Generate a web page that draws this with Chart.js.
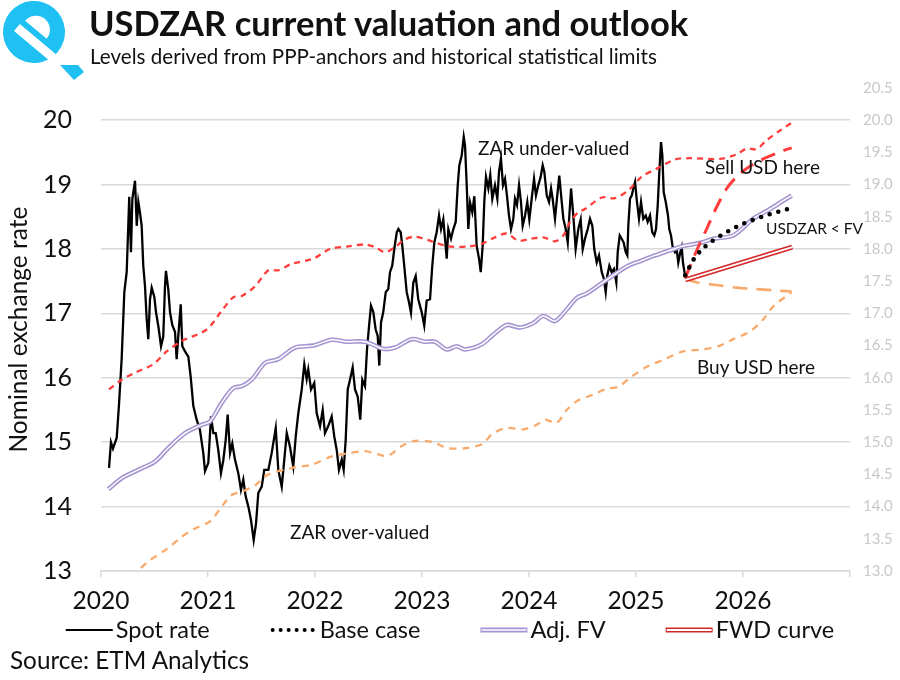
<!DOCTYPE html>
<html><head><meta charset="utf-8">
<script src="https://cdn.jsdelivr.net/npm/chart.js@4.4.1/dist/chart.umd.min.js"></script>
<style>
html,body{margin:0;padding:0;background:#fff;}
#wrap{position:relative;width:900px;height:680px;overflow:hidden;font-family:Lato,"Open Sans",sans-serif;background:#fff;}
#c{position:absolute;left:0;top:0;}
#logo{position:absolute;left:0;top:0;}
.title{position:absolute;left:89px;top:6px;font-weight:700;font-size:34.5px;line-height:1;color:#111;white-space:nowrap;}
.sub{position:absolute;left:90px;top:46px;font-size:20.6px;line-height:1;color:#111;white-space:nowrap;}
.src{position:absolute;left:10px;top:648px;font-size:24.3px;line-height:1;color:#111;white-space:nowrap;}
</style></head>
<body>
<div id="wrap">
<canvas id="c" width="900" height="680"></canvas>
<svg id="logo" width="90" height="85" viewBox="0 0 90 85">
  <g transform="rotate(40 34 32)">
    <circle cx="34" cy="32" r="31" fill="#1ec1f2"/>
    <path d="M20,29 A14,14 0 0 1 48,29 Z" fill="#ffffff"/>
    <rect x="18" y="35" width="60" height="9" fill="#ffffff"/>
  </g>
  <polygon points="60,65 78,65 84,72 74,80" fill="#1ec1f2"/>
</svg>
<div class="title">USDZAR current valuation and outlook</div>
<div class="sub">Levels derived from PPP-anchors and historical statistical limits</div>
<div class="src">Source: ETM Analytics</div>
</div>
<script>
// ---------- DATA (x = decimal year, y = USDZAR) ----------
const yearTicks = [2020, 2021, 2022, 2023, 2024, 2025, 2026, 2027];
const yearLabels = ['2020','2021','2022','2023','2024','2025','2026',''];

const spotRate = [
[2020.075,14.60],[2020.093,15.00],[2020.112,14.90],[2020.147,15.07],[2020.168,15.58],[2020.193,16.29],
[2020.218,17.33],[2020.240,17.64],[2020.255,18.36],[2020.264,18.81],[2020.280,17.95],[2020.293,18.78],
[2020.318,19.06],[2020.334,18.36],[2020.349,18.73],[2020.364,18.57],[2020.380,18.36],[2020.395,17.74],
[2020.411,17.43],[2020.427,16.91],[2020.442,16.60],[2020.458,17.22],[2020.474,17.40],[2020.498,17.26],
[2020.514,17.02],[2020.536,16.80],[2020.561,16.49],[2020.582,16.64],[2020.598,17.43],[2020.607,17.66],
[2020.629,17.37],[2020.645,17.02],[2020.666,16.82],[2020.692,16.71],[2020.707,16.29],[2020.722,16.64],
[2020.745,17.14],[2020.760,16.49],[2020.785,16.41],[2020.816,16.33],[2020.838,16.02],[2020.863,15.56],
[2020.894,15.35],[2020.925,15.19],[2020.956,14.83],[2020.972,14.55],[2021.003,14.68],[2021.028,15.40],
[2021.050,15.14],[2021.072,15.14],[2021.096,14.88],[2021.121,14.52],[2021.143,14.72],[2021.165,15.03],
[2021.184,15.43],[2021.206,14.83],[2021.227,14.98],[2021.252,14.73],[2021.283,14.52],[2021.308,14.26],
[2021.330,14.42],[2021.352,14.16],[2021.377,14.00],[2021.402,13.79],[2021.427,13.48],[2021.449,13.74],
[2021.470,14.21],[2021.502,14.31],[2021.526,14.57],[2021.564,14.57],[2021.595,14.83],[2021.633,15.22],
[2021.657,14.57],[2021.689,14.31],[2021.713,14.73],[2021.736,15.14],[2021.766,14.93],[2021.797,14.62],
[2021.820,15.09],[2021.844,15.45],[2021.876,15.82],[2021.900,16.21],[2021.922,15.98],[2021.937,16.13],
[2021.963,15.82],[2021.993,15.92],[2022.016,15.45],[2022.047,15.25],[2022.072,15.50],[2022.093,15.14],
[2022.124,15.25],[2022.156,15.40],[2022.180,15.09],[2022.203,14.88],[2022.224,14.57],[2022.250,14.73],
[2022.268,14.57],[2022.287,15.04],[2022.306,15.82],[2022.327,15.97],[2022.352,16.16],[2022.374,15.82],
[2022.399,15.71],[2022.423,15.35],[2022.442,15.97],[2022.467,15.87],[2022.486,16.44],[2022.505,16.80],
[2022.523,17.12],[2022.545,17.02],[2022.567,16.75],[2022.586,16.65],[2022.601,16.19],[2022.617,16.86],
[2022.638,17.02],[2022.661,17.33],[2022.685,17.38],[2022.701,17.64],[2022.722,17.74],[2022.741,18.00],
[2022.764,18.26],[2022.779,18.31],[2022.801,18.26],[2022.816,18.05],[2022.834,17.74],[2022.857,17.33],
[2022.879,17.17],[2022.897,17.01],[2022.919,17.48],[2022.941,17.58],[2022.965,17.22],[2022.997,17.02],
[2023.021,16.81],[2023.044,17.20],[2023.075,17.22],[2023.096,17.74],[2023.115,18.10],[2023.137,18.26],
[2023.159,18.52],[2023.178,18.31],[2023.199,18.46],[2023.215,18.16],[2023.231,17.85],[2023.246,18.31],
[2023.271,18.16],[2023.293,18.31],[2023.315,18.42],[2023.334,18.99],[2023.349,19.30],[2023.371,19.45],
[2023.390,19.74],[2023.402,19.61],[2023.418,18.99],[2023.433,18.31],[2023.449,18.72],[2023.470,18.57],
[2023.489,18.82],[2023.511,18.05],[2023.533,17.85],[2023.549,17.64],[2023.567,18.05],[2023.582,18.73],
[2023.598,19.12],[2023.620,18.94],[2023.638,19.15],[2023.657,18.78],[2023.682,18.99],[2023.704,18.78],
[2023.720,19.20],[2023.738,19.40],[2023.757,18.99],[2023.776,19.09],[2023.794,18.83],[2023.813,18.52],
[2023.832,18.31],[2023.853,18.46],[2023.869,18.78],[2023.888,18.68],[2023.907,18.99],[2023.925,18.73],
[2023.941,18.36],[2023.963,18.52],[2023.984,18.73],[2024.003,18.46],[2024.025,18.78],[2024.047,19.09],
[2024.065,18.83],[2024.087,18.99],[2024.109,19.12],[2024.128,19.30],[2024.143,19.20],[2024.166,18.83],
[2024.187,18.73],[2024.206,18.94],[2024.221,18.78],[2024.243,18.47],[2024.264,18.83],[2024.283,19.14],
[2024.306,18.73],[2024.321,18.47],[2024.343,18.31],[2024.362,18.10],[2024.377,18.52],[2024.393,18.94],
[2024.414,18.52],[2024.436,18.00],[2024.461,18.31],[2024.483,18.46],[2024.502,18.00],[2024.523,18.16],
[2024.549,18.31],[2024.570,18.47],[2024.592,18.36],[2024.610,18.00],[2024.633,17.79],[2024.654,17.90],
[2024.680,17.64],[2024.701,17.53],[2024.717,17.33],[2024.732,17.59],[2024.751,17.74],[2024.773,17.64],
[2024.794,17.69],[2024.816,17.48],[2024.829,17.95],[2024.848,18.21],[2024.866,18.16],[2024.885,18.10],
[2024.904,17.95],[2024.919,17.90],[2024.928,18.36],[2024.944,18.78],[2024.960,18.83],[2024.975,18.94],
[2024.991,19.04],[2025.009,18.73],[2025.028,18.47],[2025.047,18.73],[2025.068,18.47],[2025.091,18.52],
[2025.109,18.42],[2025.131,18.52],[2025.152,18.26],[2025.171,18.21],[2025.187,18.31],[2025.203,18.68],
[2025.218,19.20],[2025.234,19.66],[2025.246,19.46],[2025.259,18.88],[2025.278,18.73],[2025.299,18.52],
[2025.311,18.31],[2025.327,18.21],[2025.346,18.00],[2025.364,17.95],[2025.380,18.00],[2025.395,17.79],
[2025.414,17.95],[2025.427,18.03],[2025.439,17.79],[2025.458,17.59]
];

const adjFV = [
[2020.068,14.27],[2020.193,14.44],[2020.349,14.57],[2020.505,14.70],[2020.629,14.91],[2020.785,15.14],
[2020.941,15.27],[2021.019,15.32],[2021.128,15.61],[2021.236,15.84],[2021.315,15.87],[2021.408,15.97],
[2021.533,16.23],[2021.657,16.29],[2021.813,16.47],[2021.984,16.50],[2022.156,16.59],[2022.296,16.56],
[2022.467,16.56],[2022.638,16.45],[2022.748,16.47],[2022.904,16.60],[2023.028,16.56],[2023.121,16.56],
[2023.231,16.44],[2023.324,16.49],[2023.402,16.44],[2023.558,16.52],[2023.667,16.67],[2023.792,16.82],
[2023.916,16.78],[2024.040,16.85],[2024.134,16.96],[2024.243,16.88],[2024.352,17.06],[2024.446,17.24],
[2024.539,17.31],[2024.664,17.45],[2024.804,17.61],[2024.928,17.74],[2025.053,17.82],[2025.178,17.90],
[2025.302,17.97],[2025.427,18.04],[2025.614,18.10],[2025.723,18.16],[2025.909,18.21],[2026.096,18.47],
[2026.252,18.62],[2026.376,18.75],[2026.455,18.83]
];

const upperLimit = [
[2020.075,15.82],[2020.193,15.97],[2020.318,16.08],[2020.489,16.21],[2020.614,16.41],[2020.754,16.57],
[2020.988,16.75],[2021.128,17.04],[2021.236,17.25],[2021.315,17.27],[2021.439,17.42],[2021.564,17.67],
[2021.657,17.67],[2021.782,17.77],[2021.984,17.85],[2022.140,18.00],[2022.311,18.04],[2022.467,18.07],
[2022.561,18.03],[2022.654,17.95],[2022.748,18.03],[2022.841,18.15],[2022.935,18.19],[2023.091,18.12],
[2023.246,18.04],[2023.433,18.04],[2023.558,18.08],[2023.682,18.18],[2023.792,18.24],[2023.900,18.13],
[2024.025,18.16],[2024.134,18.18],[2024.243,18.12],[2024.321,18.21],[2024.383,18.42],[2024.461,18.57],
[2024.523,18.62],[2024.680,18.80],[2024.804,18.79],[2024.928,18.91],[2025.053,19.12],[2025.208,19.26],
[2025.364,19.39],[2025.489,19.41],[2025.785,19.40],[2025.941,19.47],[2026.034,19.56],[2026.128,19.55],
[2026.221,19.69],[2026.346,19.84],[2026.455,19.96]
];

const lowerLimit = [
[2020.075,12.70],[2020.336,13.00],[2020.458,13.17],[2020.614,13.34],[2020.754,13.53],[2020.879,13.66],
[2021.019,13.77],[2021.128,14.00],[2021.221,14.18],[2021.315,14.23],[2021.439,14.33],[2021.564,14.50],
[2021.782,14.60],[2021.969,14.65],[2022.156,14.78],[2022.311,14.83],[2022.467,14.86],[2022.592,14.81],
[2022.685,14.79],[2022.810,14.94],[2022.935,15.02],[2023.106,15.00],[2023.231,14.91],[2023.418,14.91],
[2023.558,14.97],[2023.667,15.14],[2023.792,15.22],[2023.947,15.20],[2024.072,15.27],[2024.150,15.35],
[2024.259,15.30],[2024.352,15.50],[2024.461,15.65],[2024.601,15.74],[2024.726,15.83],[2024.834,15.86],
[2024.944,16.00],[2025.100,16.17],[2025.255,16.28],[2025.442,16.41],[2025.629,16.44],[2025.785,16.50],
[2025.909,16.60],[2026.065,16.72],[2026.190,16.91],[2026.283,17.11],[2026.455,17.33]
];

const sellPath = [
[2025.460,17.55],[2025.560,17.95],[2025.660,18.31],[2025.750,18.64],[2025.848,18.94],[2025.940,19.12],
[2026.034,19.25],[2026.190,19.40],[2026.383,19.53],[2026.455,19.57]
];

const buyPath = [
[2025.460,17.53],[2025.570,17.48],[2025.750,17.44],[2025.940,17.40],[2026.280,17.36],[2026.455,17.34]
];

const baseCase = [
[2025.460,17.59],[2025.543,17.85],[2025.627,18.01],[2025.710,18.12],[2025.793,18.21],[2025.877,18.29],
[2025.960,18.36],[2026.043,18.42],[2026.127,18.47],[2026.210,18.52],[2026.293,18.56],[2026.377,18.60],
[2026.460,18.64]
];

const fwdCurve = [[2025.460,17.52],[2026.460,18.03]];

const legendNames = ['Spot rate','Base case','Adj. FV','FWD curve'];

const notes = [
  {text:'ZAR under-valued', x:2023.523, y:19.56, size:19},
  {text:'Sell USD here', x:2025.645, y:19.26, size:19},
  {text:'USDZAR < FV', x:2026.215, y:18.31, size:15.5},
  {text:'Buy USD here', x:2025.570, y:16.16, size:19},
  {text:'ZAR over-valued', x:2021.766, y:13.59, size:19}
];

// ---------- CHART ----------
const toXY = arr => arr.map(p => ({x:p[0], y:p[1]}));
const FONT = 'Lato, "Open Sans", sans-serif';
const C_LAV = '#a595d2', C_RED = '#ff3d3d', C_ORG = '#f8aa6c', C_FWD = '#d42626';

const line = (data, o) => Object.assign({
  data: toXY(data), pointRadius: 0, pointHoverRadius: 0, tension: 0,
  borderJoinStyle: 'round', fill: false, yAxisID: 'y'
}, o);

const datasets = [
  line(fwdCurve,   {borderColor:'#ffffff', borderWidth:1.8, order:0}),
  line(fwdCurve,   {borderColor:C_FWD, borderWidth:5, order:1}),
  line(baseCase,   {borderColor:'#000', borderWidth:4.6, borderDash:[0,9], borderCapStyle:'round', order:2, tension:0.3}),
  line(sellPath,   {borderColor:C_RED, borderWidth:3, borderDash:[15,9], order:3, tension:0.3}),
  line(buyPath,    {borderColor:C_ORG, borderWidth:2.6, borderDash:[15,9], order:3, tension:0.3}),
  line(upperLimit, {borderColor:C_RED, borderWidth:2.3, borderDash:[6,5], order:4, tension:0.3}),
  line(lowerLimit, {borderColor:C_ORG, borderWidth:2.3, borderDash:[7,6], order:4, tension:0.3}),
  line(adjFV,      {borderColor:'#ffffff', borderWidth:1.4, order:5, tension:0.3}),
  line(adjFV,      {borderColor:C_LAV, borderWidth:4.6, order:6, tension:0.3}),
  line(spotRate,   {borderColor:'#000', borderWidth:2.3, order:7, borderJoinStyle:'miter'})
];

const notesPlugin = {
  id:'notes',
  afterDatasetsDraw(chart){
    const {ctx, scales:{x, y}} = chart;
    ctx.save();
    ctx.fillStyle = '#111';
    ctx.textAlign = 'left';
    ctx.textBaseline = 'middle';
    notes.forEach(n => {
      ctx.font = n.size + 'px ' + FONT;
      ctx.fillText(n.text, x.getPixelForValue(n.x), y.getPixelForValue(n.y));
    });
    ctx.restore();
  }
};

const legendPlugin = {
  id:'customLegend',
  afterDraw(chart){
    const ctx = chart.ctx;
    const cy = 630, sw = 47, gap = 3, space = 60;
    ctx.save();
    ctx.font = '23.5px ' + FONT;
    ctx.textBaseline = 'middle';
    ctx.fillStyle = '#111';
    const widths = legendNames.map(t => sw + gap + ctx.measureText(t).width);
    const total = widths.reduce((a,b)=>a+b,0) + space*(legendNames.length-1);
    let x0 = 450 - total/2;
    legendNames.forEach((name, i) => {
      ctx.save();
      ctx.lineCap = 'butt';
      if (i === 0) { ctx.strokeStyle='#000'; ctx.lineWidth=2; ctx.beginPath(); ctx.moveTo(x0,cy); ctx.lineTo(x0+sw,cy); ctx.stroke(); }
      if (i === 1) { ctx.strokeStyle='#000'; ctx.lineWidth=4; ctx.lineCap='round'; ctx.setLineDash([0,8]); ctx.beginPath(); ctx.moveTo(x0+3,cy); ctx.lineTo(x0+sw,cy); ctx.stroke(); }
      if (i === 2 || i === 3) {
        ctx.strokeStyle = i===2 ? C_LAV : C_FWD; ctx.lineWidth=5; ctx.beginPath(); ctx.moveTo(x0,cy); ctx.lineTo(x0+sw,cy); ctx.stroke();
        ctx.strokeStyle='#fff'; ctx.lineWidth= i===2?1.4:1.8; ctx.beginPath(); ctx.moveTo(x0+1,cy); ctx.lineTo(x0+sw-1,cy); ctx.stroke();
      }
      ctx.restore();
      ctx.fillText(name, x0 + sw + gap, cy);
      x0 += widths[i] + space;
    });
    ctx.restore();
  }
};

new Chart(document.getElementById('c'), {
  type:'line',
  data:{datasets},
  plugins:[notesPlugin, legendPlugin],
  options:{
    responsive:false, animation:false, devicePixelRatio:1,
    layout:{padding:{top:88, bottom:59, left:0, right:0}},
    plugins:{legend:{display:false}, tooltip:{enabled:false}, title:{display:false}},
    scales:{
      x:{
        type:'linear', min:2020, max:2027,
        afterBuildTicks: s => { s.ticks = yearTicks.map(v => ({value:v})); },
        afterFit: s => { s.height = 50; },
        ticks:{ callback: v => yearLabels[yearTicks.indexOf(v)] ?? '', color:'#111', font:{family:FONT, size:24.5}, padding:9, maxRotation:0, autoSkip:false },
        grid:{ drawOnChartArea:false, drawTicks:true, tickLength:6, color:'#d9d9d9', lineWidth:1.5 },
        border:{ color:'#d9d9d9', width:1.5 }
      },
      y:{
        type:'linear', position:'left', min:13, max:20.5,
        afterBuildTicks: s => { s.ticks = [13,14,15,16,17,18,19,20].map(v => ({value:v})); },
        afterFit: s => { s.width = 101; },
        ticks:{ color:'#111', font:{family:FONT, size:25}, padding:29 },
        grid:{ color:'#d9d9d9', lineWidth:1.5, drawTicks:false },
        border:{ display:false },
        title:{ display:true, text:'Nominal exchange rate', color:'#111', font:{family:FONT, size:24.5}, padding:{top:4, bottom:0} }
      },
      y2:{
        type:'linear', position:'right', min:13, max:20.5,
        afterBuildTicks: s => { const t=[]; for (let v=13; v<=20.5; v+=0.5) t.push({value:v}); s.ticks=t; },
        afterFit: s => { s.width = 50; },
        ticks:{ color:'#c9c9c9', font:{family:FONT, size:15}, padding:13, callback: v => Number(v).toFixed(1) },
        grid:{ display:false, drawTicks:false },
        border:{ display:false }
      }
    }
  }
});
</script>
</body></html>
